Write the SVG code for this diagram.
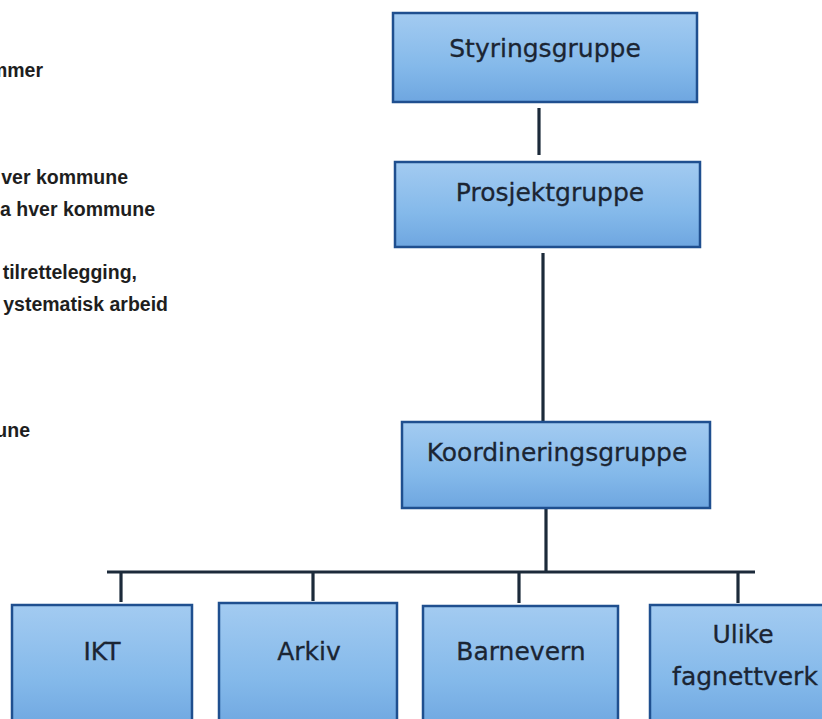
<svg xmlns="http://www.w3.org/2000/svg" width="822" height="719" viewBox="0 0 822 719">
<defs>
<linearGradient id="boxfill" x1="0" y1="0" x2="0" y2="1">
<stop offset="0" stop-color="#a3cbf1"/>
<stop offset="0.6" stop-color="#84b9ea"/>
<stop offset="1" stop-color="#6ea6e0"/>
</linearGradient>
<style>
.box{fill:url(#boxfill);stroke:#1f4f8f;stroke-width:2.5}
.lbl{font-family:"DejaVu Sans",sans-serif;font-size:25px;fill:#1b2533;text-anchor:middle;stroke:#1b2533;stroke-width:0.3}
.side{font-family:"Liberation Sans",Arial,sans-serif;font-size:19.5px;font-weight:bold;fill:#1e1e1e;text-anchor:end}
.con{stroke:#1c2a3a;stroke-width:3.2;fill:none}
</style>
</defs>
<rect width="822" height="719" fill="#ffffff"/>
<g id="side-text">
<text class="side" x="43" y="77">mmer</text>
<text class="side" x="128" y="184">ver kommune</text>
<text class="side" x="155" y="216">a hver kommune</text>
<text class="side" x="137" y="279">tilrettelegging,</text>
<text class="side" x="168" y="311">ystematisk arbeid</text>
<text class="side" x="30" y="437">une</text>
</g>
<g id="connectors">
<line class="con" x1="539" y1="108" x2="539" y2="155"/>
<line class="con" x1="543" y1="253" x2="543" y2="421"/>
<line class="con" x1="546" y1="509" x2="546" y2="572"/>
<line class="con" x1="107" y1="572" x2="755" y2="572"/>
<line class="con" x1="121" y1="572" x2="121" y2="602"/>
<line class="con" x1="313" y1="572" x2="313" y2="601"/>
<line class="con" x1="519" y1="572" x2="519" y2="603"/>
<line class="con" x1="738" y1="572" x2="738" y2="603"/>
</g>
<g id="styringsgruppe">
<rect class="box" x="393" y="13" width="304" height="89"/>
<text class="lbl" x="545" y="57">Styringsgruppe</text>
</g>
<g id="prosjektgruppe">
<rect class="box" x="395" y="162" width="305" height="85"/>
<text class="lbl" x="550" y="201">Prosjektgruppe</text>
</g>
<g id="koordineringsgruppe">
<rect class="box" x="402" y="422" width="308" height="86"/>
<text class="lbl" x="557" y="461">Koordineringsgruppe</text>
</g>
<g id="ikt">
<rect class="box" x="12" y="605" width="180" height="125"/>
<text class="lbl" x="102" y="660">IKT</text>
</g>
<g id="arkiv">
<rect class="box" x="219" y="603" width="178" height="127"/>
<text class="lbl" x="309" y="660">Arkiv</text>
</g>
<g id="barnevern">
<rect class="box" x="423" y="606" width="195" height="124"/>
<text class="lbl" x="521" y="660">Barnevern</text>
</g>
<g id="ulike-fagnettverk">
<rect class="box" x="650" y="605" width="185" height="125"/>
<text class="lbl" x="743" y="643">Ulike</text>
<text class="lbl" x="745" y="685">fagnettverk</text>
</g>
</svg>
